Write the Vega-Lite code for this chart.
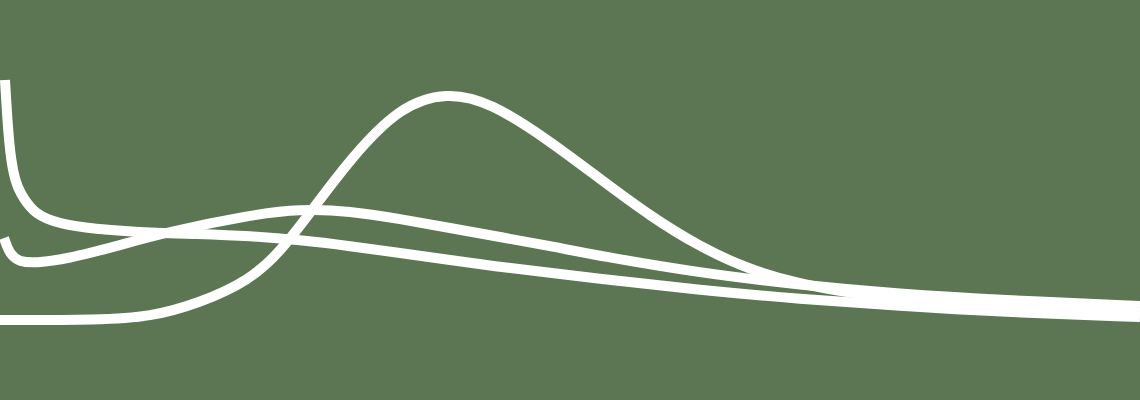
{
  "$schema": "https://vega.github.io/schema/vega-lite/v6.json",
  "width": 1140,
  "height": 400,
  "autosize": {"type": "fit", "contains": "padding"},
  "padding": 0,
  "background": "#5c7553",
  "config": {"view": {"stroke": null}},
  "data": {
    "values": [
      {"s": "A", "x": 5, "y": 320},
      {"s": "A", "x": 8, "y": 270},
      {"s": "A", "x": 11, "y": 240},
      {"s": "A", "x": 15, "y": 220},
      {"s": "A", "x": 20, "y": 207},
      {"s": "A", "x": 33, "y": 188},
      {"s": "A", "x": 50, "y": 179},
      {"s": "A", "x": 83, "y": 172},
      {"s": "A", "x": 133, "y": 168},
      {"s": "A", "x": 200, "y": 166},
      {"s": "A", "x": 250, "y": 164},
      {"s": "A", "x": 300, "y": 160},
      {"s": "A", "x": 350, "y": 154},
      {"s": "A", "x": 400, "y": 147},
      {"s": "A", "x": 450, "y": 140},
      {"s": "A", "x": 500, "y": 133},
      {"s": "A", "x": 600, "y": 121},
      {"s": "A", "x": 700, "y": 110},
      {"s": "A", "x": 800, "y": 101},
      {"s": "A", "x": 900, "y": 94},
      {"s": "A", "x": 1000, "y": 88},
      {"s": "A", "x": 1140, "y": 83},
      {"s": "B", "x": 4, "y": 162},
      {"s": "B", "x": 10, "y": 145},
      {"s": "B", "x": 20, "y": 138},
      {"s": "B", "x": 35, "y": 137},
      {"s": "B", "x": 67, "y": 141},
      {"s": "B", "x": 117, "y": 154},
      {"s": "B", "x": 167, "y": 168},
      {"s": "B", "x": 250, "y": 185},
      {"s": "B", "x": 300, "y": 191},
      {"s": "B", "x": 350, "y": 189},
      {"s": "B", "x": 400, "y": 181},
      {"s": "B", "x": 450, "y": 172},
      {"s": "B", "x": 500, "y": 163},
      {"s": "B", "x": 550, "y": 154},
      {"s": "B", "x": 600, "y": 144},
      {"s": "B", "x": 700, "y": 127},
      {"s": "B", "x": 800, "y": 115},
      {"s": "B", "x": 900, "y": 106},
      {"s": "B", "x": 1000, "y": 100},
      {"s": "B", "x": 1140, "y": 94},
      {"s": "C", "x": 0, "y": 80},
      {"s": "C", "x": 100, "y": 80},
      {"s": "C", "x": 150, "y": 83},
      {"s": "C", "x": 200, "y": 97},
      {"s": "C", "x": 250, "y": 120},
      {"s": "C", "x": 280, "y": 148},
      {"s": "C", "x": 310, "y": 187},
      {"s": "C", "x": 350, "y": 241},
      {"s": "C", "x": 400, "y": 294},
      {"s": "C", "x": 447, "y": 308},
      {"s": "C", "x": 490, "y": 298},
      {"s": "C", "x": 550, "y": 259},
      {"s": "C", "x": 600, "y": 221},
      {"s": "C", "x": 650, "y": 184},
      {"s": "C", "x": 700, "y": 153},
      {"s": "C", "x": 750, "y": 130},
      {"s": "C", "x": 800, "y": 116},
      {"s": "C", "x": 850, "y": 107},
      {"s": "C", "x": 900, "y": 100},
      {"s": "C", "x": 1000, "y": 93},
      {"s": "C", "x": 1140, "y": 87}
    ]
  },
  "mark": {"type": "line", "interpolate": "basis", "strokeWidth": 10, "color": "#ffffff", "clip": true},
  "encoding": {
    "x": {"field": "x", "type": "quantitative", "scale": {"domain": [0, 1140], "nice": false, "zero": false}, "axis": null},
    "y": {"field": "y", "type": "quantitative", "scale": {"domain": [0, 400], "nice": false}, "axis": null},
    "detail": {"field": "s", "type": "nominal"}
  }
}
